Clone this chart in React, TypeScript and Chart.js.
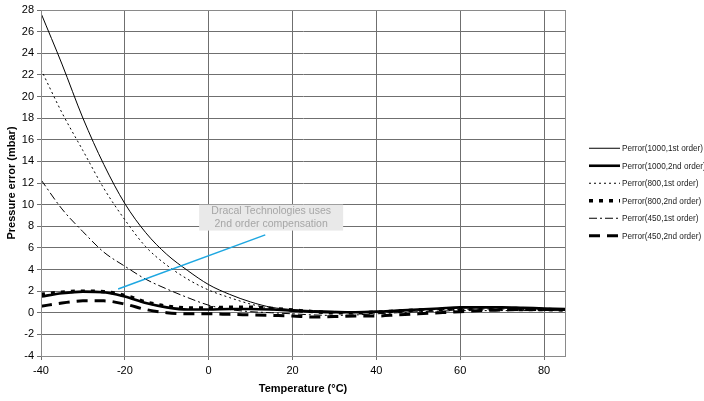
import React, { useEffect, useRef } from "react";
import { Chart, registerables } from "chart.js";

Chart.register(...registerables);

const temps = [-40, -35, -30, -25, -20, -15, -10, -5, 0, 5, 10, 15, 20, 25, 30, 35, 40, 45, 50, 55, 60, 65, 70, 75, 80, 85];

const p1000first = [27.7, 23.0, 18.0, 13.7, 10.1, 7.4, 5.4, 3.9, 2.6, 1.7, 1.0, 0.5, 0.3, 0.2, 0.15, 0.1, 0.1, 0.2, 0.3, 0.4, 0.45, 0.5, 0.5, 0.45, 0.4, 0.35];
const p1000second = [1.5, 1.8, 1.95, 1.9, 1.5, 0.9, 0.5, 0.3, 0.3, 0.35, 0.35, 0.3, 0.2, 0.1, 0.05, 0.05, 0.1, 0.2, 0.3, 0.4, 0.5, 0.5, 0.5, 0.45, 0.4, 0.35];
const p800first = [22.5, 18.5, 15.0, 11.5, 8.6, 6.1, 4.4, 3.1, 2.1, 1.4, 0.8, 0.4, 0.2, 0.1, 0.0, 0.0, 0.0, 0.1, 0.2, 0.3, 0.3, 0.35, 0.35, 0.3, 0.3, 0.3];
const p800second = [1.7, 1.9, 2.0, 1.95, 1.6, 1.0, 0.6, 0.45, 0.45, 0.5, 0.5, 0.4, 0.25, 0.1, 0.0, 0.0, 0.05, 0.15, 0.25, 0.3, 0.35, 0.35, 0.35, 0.3, 0.3, 0.25];
const p450first = [12.3, 9.6, 7.5, 5.6, 4.3, 3.1, 2.2, 1.4, 0.7, 0.3, 0.1, 0.0, -0.1, -0.2, -0.25, -0.2, -0.1, 0.0, 0.1, 0.15, 0.2, 0.2, 0.2, 0.2, 0.2, 0.2];
const p450second = [0.6, 0.9, 1.1, 1.1, 0.8, 0.3, 0.0, -0.1, -0.1, -0.15, -0.2, -0.25, -0.3, -0.4, -0.35, -0.3, -0.3, -0.2, -0.1, 0.0, 0.1, 0.2, 0.25, 0.3, 0.3, 0.3];

const seriesLabels = [
  "Perror(1000,1st order)",
  "Perror(1000,2nd order)",
  "Perror(800,1st order)",
  "Perror(800,2nd order)",
  "Perror(450,1st order)",
  "Perror(450,2nd order)",
];

const xTitle = "Temperature (°C)";
const yTitle = "Pressure error (mbar)";
const annotationLines = ["Dracal Technologies uses", "2nd order compensation"];
const annotationAnchor = { x: 14.9, y: 8.8 };
const arrowFrom = { x: -21.6, y: 2.2 };
const arrowTo = { x: 13.5, y: 7.2 };

const styles = [
  { width: 1, dash: [] as number[] },
  { width: 2.6, dash: [] as number[] },
  { width: 1, dash: [2, 3] },
  { width: 3.5, dash: [4, 6] },
  { width: 1, dash: [8, 3, 2, 3] },
  { width: 3, dash: [11, 7] },
];

const FONT = "'Liberation Sans', Arial, sans-serif";

export default function App() {
  const ref = useRef<HTMLCanvasElement | null>(null);

  useEffect(() => {
    if (!ref.current) return;
    const values = [p1000first, p1000second, p800first, p800second, p450first, p450second];
    const datasets = values.map((vals, i) => ({
      label: seriesLabels[i],
      data: vals.map((v, j) => ({ x: temps[j], y: v })),
      borderColor: "#000000",
      borderWidth: styles[i].width,
      borderDash: styles[i].dash,
      pointRadius: 0,
      fill: false,
      cubicInterpolationMode: "monotone" as const,
    }));

    const overlay = {
      id: "overlay",
      afterDatasetsDraw(chart: any) {
        const ctx = chart.ctx;
        const xs = chart.scales.x;
        const ys = chart.scales.y;
        const area = chart.chartArea;
        ctx.save();
        // frame
        ctx.strokeStyle = "#8a8a8a";
        ctx.lineWidth = 1;
        ctx.setLineDash([]);
        ctx.strokeRect(Math.round(area.left) + 0.5, Math.round(area.top) + 0.5, Math.round(area.right - area.left), Math.round(area.bottom - area.top));
        // annotation line
        ctx.strokeStyle = "#1ea7e1";
        ctx.lineWidth = 1.5;
        ctx.beginPath();
        ctx.moveTo(xs.getPixelForValue(arrowFrom.x), ys.getPixelForValue(arrowFrom.y));
        ctx.lineTo(xs.getPixelForValue(arrowTo.x), ys.getPixelForValue(arrowTo.y));
        ctx.stroke();
        // annotation box
        const cx = xs.getPixelForValue(annotationAnchor.x);
        const cy = ys.getPixelForValue(annotationAnchor.y);
        const bw = 144, bh = 26;
        ctx.fillStyle = "#e9e9e9";
        ctx.fillRect(cx - bw / 2, cy - bh / 2, bw, bh);
        ctx.fillStyle = "#a6a6a6";
        ctx.font = `10.5px ${FONT}`;
        ctx.textAlign = "center";
        ctx.textBaseline = "middle";
        ctx.fillText(annotationLines[0], cx, cy - 6);
        ctx.fillText(annotationLines[1], cx, cy + 6.5);
        // legend
        const lx0 = area.right + 24;
        const lx1 = lx0 + 31;
        const rowH = 17.5;
        const n = datasets.length;
        const startY = (area.top + area.bottom) / 2 + 9 - ((n - 1) * rowH) / 2;
        ctx.textAlign = "left";
        ctx.font = `9px ${FONT}`;
        const refW = ctx.measureText(datasets[0].label).width;
        const squeeze = 81 / refW;
        datasets.forEach((ds, i) => {
          const y = startY + i * rowH;
          ctx.strokeStyle = "#000";
          ctx.lineWidth = ds.borderWidth;
          ctx.setLineDash(ds.borderDash);
          ctx.beginPath();
          ctx.moveTo(lx0, y);
          ctx.lineTo(lx1, y);
          ctx.stroke();
          ctx.setLineDash([]);
          ctx.fillStyle = "#222";
          const w = ctx.measureText(ds.label).width;
          ctx.fillText(ds.label, lx1 + 2, y + 0.5, w * squeeze);
        });
        ctx.restore();
      },
    };

    const chart = new Chart(ref.current, {
      type: "line",
      data: { datasets },
      options: {
        animation: false,
        responsive: true,
        maintainAspectRatio: false,
        layout: { padding: { top: 10, right: 139, bottom: 0, left: 0 } },
        plugins: { legend: { display: false }, tooltip: { enabled: false } },
        scales: {
          x: {
            type: "linear",
            min: -40,
            max: 85,
            ticks: { stepSize: 20, color: "#000", font: { family: FONT, size: 11 }, padding: 4, maxRotation: 0 },
            afterBuildTicks: (scale: any) => {
              scale.ticks = scale.ticks.filter((t: any) => t.value % 20 === 0);
            },
            afterFit: (scale: any) => {
              scale.height = 45;
            },
            grid: { color: "#6f6f6f", lineWidth: 1, tickLength: 4 },
            border: { color: "#8a8a8a" },
            title: { display: true, text: xTitle, color: "#000", font: { family: FONT, size: 11, weight: "bold" }, padding: { top: 0, bottom: 5 } },
          },
          y: {
            type: "linear",
            min: -4,
            max: 28,
            ticks: { stepSize: 2, color: "#000", font: { family: FONT, size: 11 }, padding: 3 },
            afterFit: (scale: any) => {
              scale.width = 41;
            },
            grid: { color: "#6f6f6f", lineWidth: 1, tickLength: 4 },
            border: { color: "#8a8a8a" },
            title: { display: true, text: yTitle, color: "#000", font: { family: FONT, size: 11, weight: "bold" }, padding: { top: 5, bottom: 0 } },
          },
        },
      },
      plugins: [overlay],
    });
    return () => chart.destroy();
  }, []);

  return (
    <div style={{ position: "fixed", left: 0, top: 0, width: 704, height: 401, background: "#fff" }}>
      <canvas ref={ref} />
    </div>
  );
}
